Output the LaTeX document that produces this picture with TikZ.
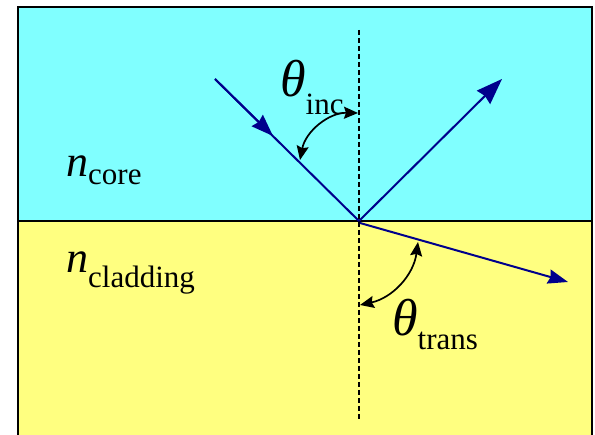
\documentclass[tikz,border=0pt]{standalone}
\usepackage{fontspec}
\setmainfont{Liberation Serif}
\usetikzlibrary{arrows.meta}
\definecolor{corecol}{RGB}{128,255,255}
\definecolor{cladcol}{RGB}{255,255,128}
\definecolor{raycol}{RGB}{0,0,140}
\tikzset{
  ray/.style={draw=raycol, line width=2pt},
  rayhead/.style={-{Stealth[length=#1, width=0.72*#1, inset=2pt]}},
  angarc/.style={draw=black, line width=1.7pt, {Stealth[length=14pt,width=12pt,inset=2pt]}-{Stealth[length=14pt,width=12pt,inset=2pt]}},
  lbl/.style={anchor=base west, inner sep=0pt, font=\fontsize{44}{44}\selectfont},
  normalline/.style={draw=black, line width=1.6pt, dash pattern=on 5pt off 3pt},
}
\newcommand{\subtxt}[2]{\raisebox{-#1pt}{\fontsize{31}{31}\selectfont #2}}
\newcommand{\bigtheta}{{\fontsize{52}{52}\selectfont\itshape θ}}
\begin{document}
\begin{tikzpicture}[x=1pt,y=-1pt]
\useasboundingbox (0,0) rectangle (595,435);
% media
\fill[corecol] (18,7) rectangle (592,221);
\fill[cladcol] (18,221) rectangle (592,440);
\draw[line width=1.6pt] (18,440) -- (18,7) -- (592,7) -- (592,440);
\draw[line width=1.6pt] (18,221) -- (592,221);
% normal
\coordinate (ntop) at (359,30);
\coordinate (nbot) at (359,420);
\draw[normalline] (ntop) -- (nbot);
% rays
\coordinate (src) at (215,79);
\coordinate (hit) at (359,221);
\coordinate (mid) at (273,136);
\coordinate (refl) at (502,79);
\coordinate (tr0) at (360,223);
\coordinate (trans) at (568,282);
\draw[ray] (src) -- (hit);
\draw[ray, rayhead=22pt] (src) -- (mid);
\draw[ray, rayhead=26pt] (hit) -- (refl);
\draw[ray, rayhead=20pt] (tr0) -- (trans);
% angle arcs
\coordinate (ia) at (300,160);
\coordinate (ib) at (358,113);
\draw[angarc] (ia) to[bend left=40] (ib);
\coordinate (ta) at (418,242);
\coordinate (tb) at (360,305);
\draw[angarc] (ta) to[bend left=35] (tb);
% labels
\node[lbl] (ncore) at (66,177) {\textit{n}\subtxt{8}{core}};
\node[lbl] (nclad) at (66,273) {\textit{n}\subtxt{15}{cladding}};
\node[lbl] (thinc) at (280,97) {\bigtheta\subtxt{18}{inc}};
\node[lbl] (thtrans) at (392,336) {\bigtheta\subtxt{14}{trans}};
\end{tikzpicture}
\end{document}
